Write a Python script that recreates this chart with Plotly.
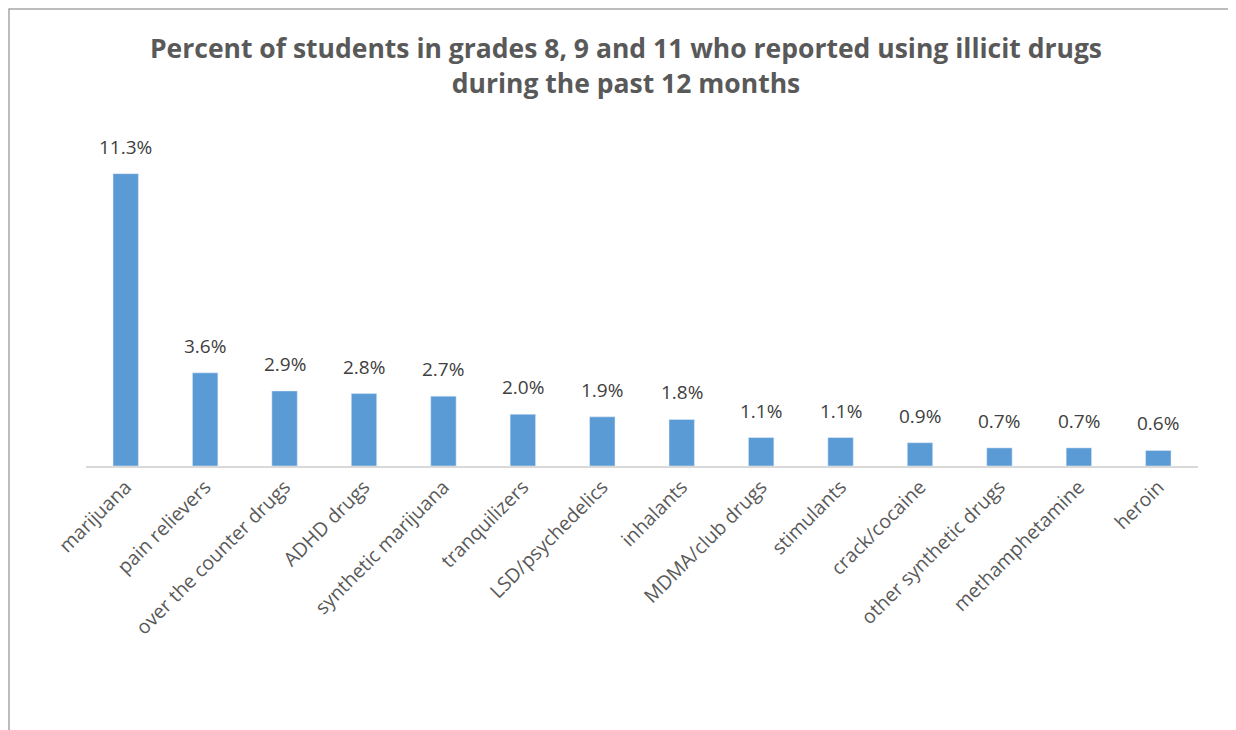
import plotly.graph_objects as go

drugs = ["marijuana", "pain relievers", "over the counter drugs", "ADHD drugs",
         "synthetic marijuana", "tranquilizers", "LSD/psychedelics", "inhalants",
         "MDMA/club drugs", "stimulants", "crack/cocaine", "other synthetic drugs",
         "methamphetamine", "heroin"]
pct = [11.3, 3.6, 2.9, 2.8, 2.7, 2.0, 1.9, 1.8, 1.1, 1.1, 0.9, 0.7, 0.7, 0.6]
pct_labels = [f"{v:.1f}%" for v in pct]

# the page body adds an 8px offset, margins compensate for it
W, H = 1236, 730
ml, mr, mt, mb = 78, 46, 132, 272
pw = W - ml - mr
ph = H - mt - mb

fig = go.Figure([go.Bar(
    x=drugs, y=pct, marker=dict(color="#5B9BD5"), width=0.32,
)])

for d, v, lab in zip(drugs, pct, pct_labels):
    fig.add_annotation(x=d, y=v, text=lab, showarrow=False, yanchor="bottom",
                       yshift=12, font=dict(size=19, color="#404040"))

# chart border (left, top, right)
fig.add_shape(type="rect", xref="paper", yref="paper",
              x0=-(ml - 1) / pw, x1=1 + (mr - 11) / pw,
              y0=-(mb + 20) / ph, y1=1 + (mt - 1) / ph,
              line=dict(color="#A6A6A6", width=1.5), fillcolor="rgba(0,0,0,0)")

fig.update_layout(
    width=W, height=H,
    margin=dict(l=ml, r=mr, t=mt, b=mb, autoexpand=False),
    paper_bgcolor="white", plot_bgcolor="white",
    font=dict(family="Open Sans", color="#595959"),
    title=dict(text="<b>Percent of students in grades 8, 9 and 11 who reported using illicit drugs<br>during the past 12 months</b>",
               x=0.5, xanchor="center", y=0.931, yanchor="middle",
               font=dict(size=26.5, color="#595959")),
    xaxis=dict(tickangle=-45, tickfont=dict(size=19.5, color="#595959"),
               showline=True, linecolor="#D9D9D9", linewidth=2,
               ticks="", showgrid=False, automargin=False),
    yaxis=dict(range=[0, 12.6], visible=False),
    showlegend=False,
)

fig.write_html("out.html")
